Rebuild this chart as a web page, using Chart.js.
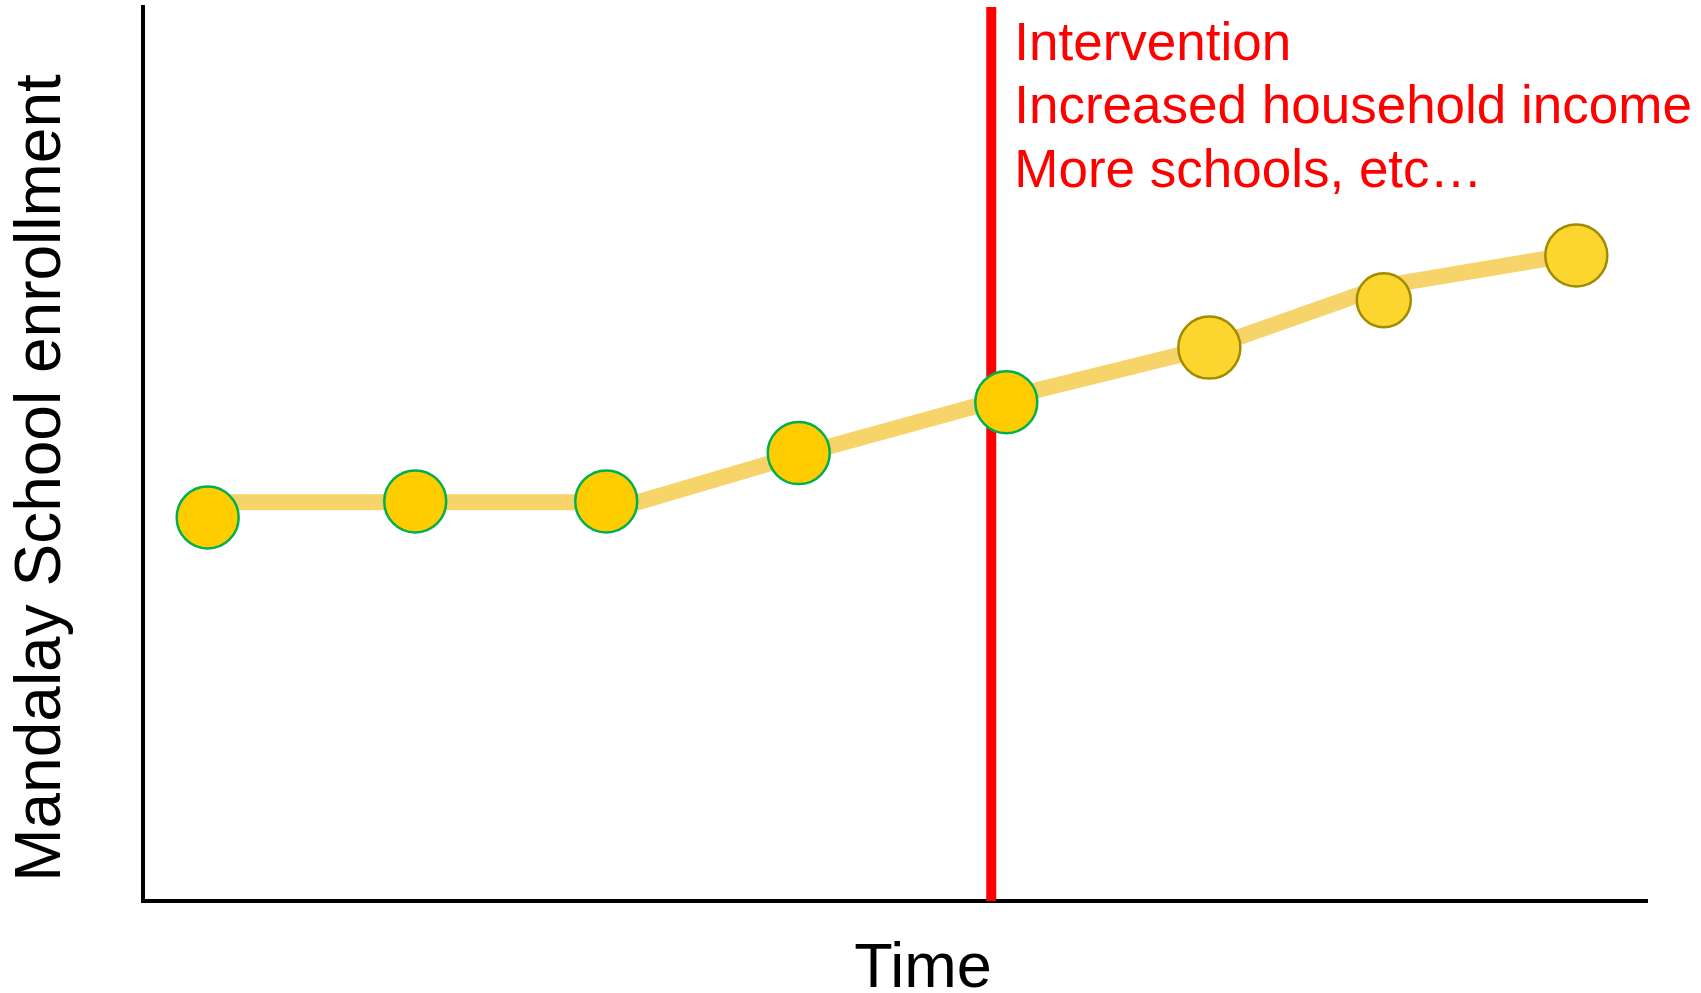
<!DOCTYPE html>
<html>
<head>
<meta charset="utf-8">
<title>Mandalay School enrollment over time</title>
<script src="https://cdn.jsdelivr.net/npm/chart.js@4/dist/chart.umd.min.js"></script>
<style>
  html, body { margin: 0; padding: 0; background: #ffffff; }
  #chart { display: block; }
</style>
</head>
<body>
<canvas id="chart" width="1701" height="993"></canvas>
<script>
// Observed enrollment (time on a 0-100 scale, enrollment on a 0-100 scale)
const timePoints = [4.3, 18.1, 30.8, 43.6, 57.4, 70.9, 82.5, 95.3];
const enrollment = [42.9, 44.7, 44.7, 50.1, 55.8, 61.9, 67.2, 72.2];

// Trend line drawn behind the observations
const trendTimes = [4.3, 18.1, 32.9, 43.6, 57.4, 70.9, 82.5, 95.3];
const trendValues = [44.6, 44.6, 44.6, 49.9, 56.3, 61.9, 68.8, 72.4];

// When the intervention happens
const interventionTime = 56.4;
const interventionNotes = ['Intervention', 'Increased household income', 'More schools, etc\u2026'];

// Axis titles
const xTitle = 'Time';
const yTitle = 'Mandalay School enrollment';

// Observations up to this index are before the programme took effect
const lastBeforeIndex = 4;

const FONT = '"Liberation Sans", Arial, Helvetica, sans-serif';

const pts = (xs, ys) => xs.map((x, i) => ({ x: x, y: ys[i] }));

const annotationText = {
  id: 'annotationText',
  afterDraw(chart) {
    const { ctx, scales } = chart;
    ctx.save();

    // Notes beside the intervention line
    const ix = scales.x.getPixelForValue(interventionTime);
    ctx.fillStyle = '#ff0000';
    ctx.font = '53px ' + FONT;
    ctx.textAlign = 'left';
    ctx.textBaseline = 'alphabetic';
    interventionNotes.forEach((line, i) => {
      ctx.fillText(line, ix + 23, 60 + i * 63.3);
    });

    // Axis titles
    ctx.fillStyle = '#000000';
    ctx.font = '63px ' + FONT;
    ctx.textAlign = 'center';
    ctx.fillText(xTitle, 923, 987);

    ctx.translate(60, 478);
    ctx.rotate(-Math.PI / 2);
    ctx.font = '64px ' + FONT;
    ctx.fillText(yTitle, 0, 0);
    ctx.restore();
  }
};

new Chart(document.getElementById('chart'), {
  type: 'scatter',
  data: {
    datasets: [
      {
        type: 'line',
        label: 'Trend',
        data: pts(trendTimes, trendValues),
        borderColor: '#f6d46a',
        borderWidth: 16,
        borderCapStyle: 'butt',
        borderJoinStyle: 'miter',
        pointRadius: 0,
        fill: false,
        tension: 0,
        order: 3
      },
      {
        type: 'line',
        label: 'Intervention',
        data: [{ x: interventionTime, y: 0 }, { x: interventionTime, y: 100 }],
        borderColor: '#ff0000',
        borderWidth: 10,
        borderCapStyle: 'butt',
        pointRadius: 0,
        fill: false,
        order: 2
      },
      {
        label: 'Enrollment',
        data: pts(timePoints, enrollment),
        showLine: false,
        pointRadius: ctx => (ctx.dataIndex === 6 ? 27 : 31),
        pointBackgroundColor: ctx => (ctx.dataIndex <= lastBeforeIndex ? '#ffcc00' : '#fcd62e'),
        pointBorderColor: ctx => (ctx.dataIndex <= lastBeforeIndex ? '#00b050' : '#a08c00'),
        pointBorderWidth: 2.5,
        order: 1
      }
    ]
  },
  options: {
    responsive: false,
    animation: false,
    devicePixelRatio: 1,
    layout: { autoPadding: false, padding: { left: 143, top: 7, right: 54, bottom: 92 } },
    plugins: {
      legend: { display: false },
      tooltip: { enabled: false },
      title: { display: false }
    },
    scales: {
      x: {
        type: 'linear',
        min: 0,
        max: 100,
        ticks: { display: false },
        grid: { display: false, drawTicks: false },
        border: { display: true, color: '#000000', width: 4 },
        title: { display: false }
      },
      y: {
        type: 'linear',
        min: 0,
        max: 100,
        ticks: { display: false },
        grid: { display: false, drawTicks: false },
        border: { display: true, color: '#000000', width: 4 },
        title: { display: false }
      }
    }
  },
  plugins: [annotationText]
});
</script>
</body>
</html>
